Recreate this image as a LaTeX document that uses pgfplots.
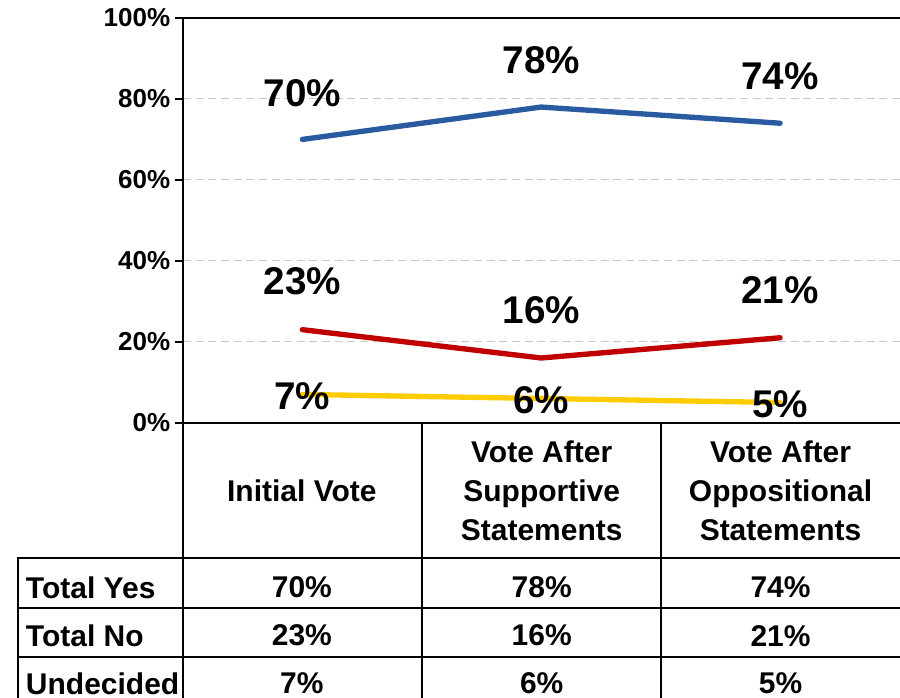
\documentclass[border=0pt]{standalone}
\usepackage{pgfplots}
\pgfplotsset{compat=1.18}
\usepackage{fontspec}
\setmainfont{Liberation Sans}
\definecolor{cBlue}{RGB}{42,91,160}
\definecolor{cRed}{RGB}{192,0,0}
\definecolor{cYel}{RGB}{255,204,0}
\definecolor{cGrid}{RGB}{200,200,200}
\begin{document}
\begin{tikzpicture}
\begin{scope}[x=0.75pt,y=-0.75pt]
\useasboundingbox (0,0) rectangle (900,698);
\end{scope}
\begin{axis}[
 at={(137.25pt,-317.25pt)}, anchor=south west,
 width=537.75pt, height=303.75pt, scale only axis,
 xmin=-0.5, xmax=2.5, ymin=0, ymax=100,
 xtick=\empty,
 ytick={0,20,40,60,80,100},
 yticklabels={0\%,20\%,40\%,60\%,80\%,100\%},
 yticklabel style={font=\fontsize{19.5}{19.5}\selectfont\bfseries},
 ytick pos=left,
 tick align=outside, major tick length=6pt,
 ytick style={line width=1.2pt, black},
 ymajorgrids, grid style={cGrid, dash pattern=on 6pt off 3.5pt, line width=0.75pt},
 axis line style={draw=none},
 clip=false,
 /pgf/number format/assume math mode=true,
 nodes near coords={\pgfmathprintnumber{\pgfplotspointmeta}\%},
 every node near coord/.append style={font=\fontsize{29}{29}\selectfont\bfseries, black, anchor=center},
]
\addplot[cBlue, line width=4pt, line cap=round, every node near coord/.append style={yshift=35pt}] coordinates {(0,70)(1,78)(2,74)};
\addplot[cRed, line width=4pt, line cap=round, every node near coord/.append style={yshift=36pt}] coordinates {(0,23)(1,16)(2,21)};
\addplot[cYel, line width=4pt, line cap=round, every node near coord/.append style={yshift=-1.5pt}] coordinates {(0,7)(1,6)(2,5)};
\end{axis}
\begin{scope}[x=0.75pt,y=-0.75pt, line width=1.5pt]
\useasboundingbox (0,0) rectangle (900,698);
\draw (183,17) -- (183,698);
\draw (182,18) -- (900,18);
\draw (183,423) -- (900,423);
\draw (422,423) -- (422,698);
\draw (661,423) -- (661,698);
\draw (18,558) -- (900,558);
\draw (18,608) -- (900,608);
\draw (18,657) -- (900,657);
\draw (18,557) -- (18,698);
\begin{scope}[every node/.style={font=\fontsize{22.5}{29.5}\selectfont\bfseries, align=center, inner sep=0pt}]
\node at (302,491) {Initial Vote};
\node at (542,491) {Vote After\\Supportive\\Statements};
\node at (781,491) {Vote After\\Oppositional\\Statements};
\node[anchor=west] at (25,588) {Total Yes};
\node[anchor=west] at (25,636) {Total No};
\node[anchor=west] at (25,684) {Undecided};
\node at (302,588) {70\%};
\node at (542,588) {78\%};
\node at (781,588) {74\%};
\node at (302,636) {23\%};
\node at (542,636) {16\%};
\node at (781,636) {21\%};
\node at (302,684) {7\%};
\node at (542,684) {6\%};
\node at (781,684) {5\%};
\end{scope}
\end{scope}
\end{tikzpicture}
\end{document}
